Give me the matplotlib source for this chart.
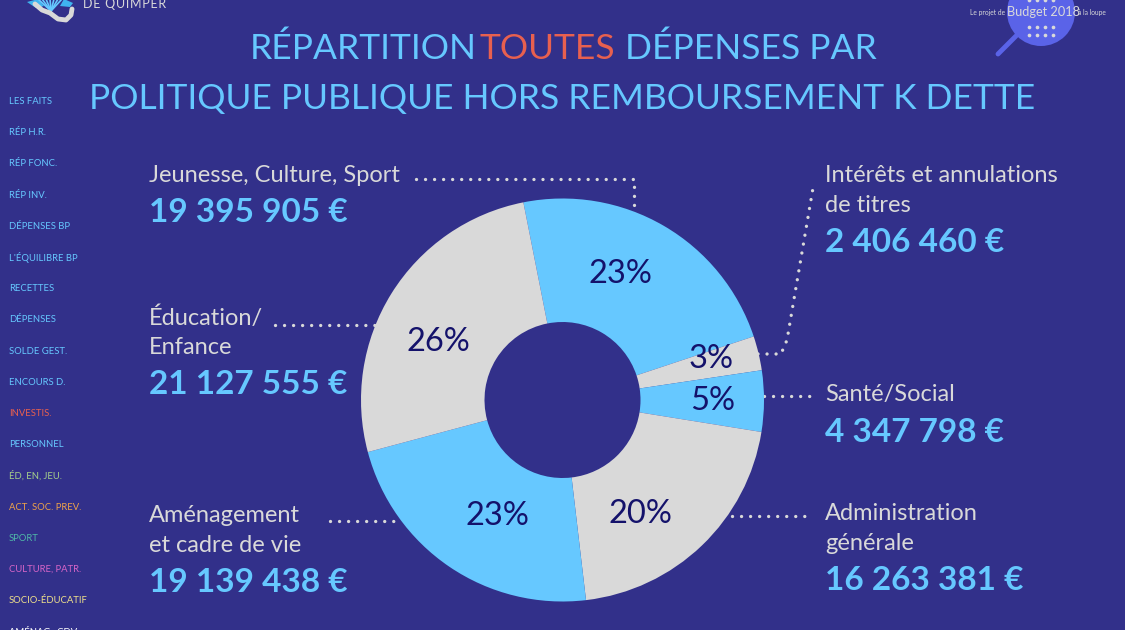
import numpy as np
import matplotlib.pyplot as plt
from matplotlib.patches import Circle, Polygon

# slice shares, clockwise from the Jeunesse slice
shares = [23.0, 2.75, 4.9, 20.6, 22.7, 26.05]
pct_labels = ['23%', '3%', '5%', '20%', '23%', '26%']
slice_colors = ['#66C8FF', '#D9D9D9', '#66C8FF', '#D9D9D9', '#66C8FF', '#D9D9D9']

menu_labels = ['LES FAITS', 'RÉP H.R.', 'RÉP FONC.', 'RÉP INV.', 'DÉPENSES BP',
               "L'ÉQUILIBRE BP", 'RECETTES', 'DÉPENSES', 'SOLDE GEST.', 'ENCOURS D.',
               'INVESTIS.', 'PERSONNEL', 'ÉD, EN, JEU.', 'ACT. SOC. PREV.', 'SPORT',
               'CULTURE, PATR.', 'SOCIO-ÉDUCATIF', 'AMÉNAG., CDV']
menu_colors = ['#66C8FF'] * 10 + ['#E8604F', '#66C8FF', '#A5CF8B', '#EDA24A', '#4FB7A8',
                                  '#D765C8', '#EFE08A', '#FFFFFF']

BG = '#32308A'
BLUE = '#66C8FF'
GREY = '#D9D9D9'
NAVY = '#14126B'
BADGE = '#5A63E8'

plt.rcParams['font.family'] = ['Lato', 'DejaVu Sans']

fig = plt.figure(figsize=(11.25, 6.3), dpi=100, facecolor=BG)

# overlay in pixel coordinates for text and dotted leaders
ax = fig.add_axes([0, 0, 1, 1])
ax.set_xlim(0, 1125)
ax.set_ylim(630, 0)
ax.axis('off')

# donut
cx, cy, r = 562.5, 400, 201.5
pie_ax = fig.add_axes([(cx - r) / 1125, (630 - cy - r) / 630, 2 * r / 1125, 2 * r / 630])
pie_ax.pie(shares, colors=slice_colors, startangle=101.2, counterclock=False,
           radius=1, wedgeprops={'width': 1 - 78 / r})
pie_ax.set_xlim(-1, 1)
pie_ax.set_ylim(-1, 1)
pct_pos = [(620, 274), (711, 359), (713, 401), (640, 514), (497, 516), (438, 342)]
for lab, (px, py) in zip(pct_labels, pct_pos):
    pie_ax.text((px - cx) / r, (cy - py) / r, lab, color=NAVY, fontsize=23.5, ha='center', va='center')

# title
TITLE_SIZE = 25.5
ax.text(250, 59, 'RÉPARTITION', color=BLUE, fontsize=TITLE_SIZE)
ax.text(480, 59, 'TOUTES', color='#E8604F', fontsize=TITLE_SIZE)
ax.text(625, 59, 'DÉPENSES PAR', color=BLUE, fontsize=TITLE_SIZE)
ax.text(562, 109, 'POLITIQUE PUBLIQUE HORS REMBOURSEMENT K DETTE', color=BLUE, fontsize=TITLE_SIZE, ha='center')

# left menu
for i, (lab, col) in enumerate(zip(menu_labels, menu_colors)):
    ax.text(9, 101.5 + 31.2 * i, lab, color=col, fontsize=6.8, va='center')


def block(x, y, lines, amount):
    for j, line in enumerate(lines):
        ax.text(x, y + j * 30, line, color=GREY, fontsize=17, va='center')
    ax.text(x, y + len(lines) * 30 + 7, amount, color=BLUE, fontsize=24, va='center', fontweight='bold')


block(149, 176, ['Jeunesse, Culture, Sport'], '19 395 905 €')
block(149, 318, ['Éducation/', 'Enfance'], '21 127 555 €')
block(149, 516, ['Aménagement', 'et cadre de vie'], '19 139 438 €')
block(825, 176, ['Intérêts et annulations', 'de titres'], '2 406 460 €')
block(825, 395, ['Santé/Social'], '4 347 798 €')
block(825, 514, ['Administration', 'générale'], '16 263 381 €')

# dotted leaders
leaders = [
    ([416, 634, 634], [179, 179, 207]),
    ([275, 376], [325, 325]),
    ([330, 400], [521, 521]),
    ([732, 810], [516, 516]),
    ([764, 812], [396, 396]),
    ([758, 781, 787, 813], [354, 354, 340, 188]),
]
for xs, ys in leaders:
    ax.plot(xs, ys, color=GREY, lw=2.4, linestyle=(0, (0.01, 2.7)), dash_capstyle='round', zorder=3)

# logo, cut by the top edge
ax.add_patch(Polygon([(27, 2), (38, -1), (44, 6), (36, 8)], closed=True, color='#3FB4F0', lw=0))
ax.add_patch(Polygon([(60, 6), (64, -1), (73, 3), (70, 7)], closed=True, color='#3FB4F0', lw=0))
for tip_x in [38, 42, 46, 50, 54, 58, 62]:
    ax.plot([51, tip_x], [11, -1], color=BLUE, lw=1.2)
ax.plot([35, 42, 50, 58, 66, 71, 72], [4, 10, 13, 19, 20, 15, 9], color=GREY, lw=3.5, solid_capstyle='round')
ax.text(83, 8.5, '\u200a'.join('DE QUIMPER'), color=GREY, fontsize=9)

# magnifier badge
ax.add_patch(Circle((1041, 12), 34, color=BADGE, lw=0, zorder=1))
ax.plot([1016, 998], [36, 54], color=BADGE, lw=3.5, solid_capstyle='round', zorder=1)
dot_x, dot_y = np.meshgrid([1029, 1037, 1045, 1053], [0, 27, 35])
ax.scatter(dot_x.ravel(), dot_y.ravel(), s=7, color=GREY, zorder=2, lw=0)
ax.text(970, 12, 'Le projet de', color=GREY, fontsize=4.8, va='center')
ax.text(1007, 12, 'Budget 2018', color=GREY, fontsize=9.2, va='center')
ax.text(1078, 12, 'à la loupe', color=GREY, fontsize=4.8, va='center')

fig.savefig('out.png', dpi=100, facecolor=BG)
